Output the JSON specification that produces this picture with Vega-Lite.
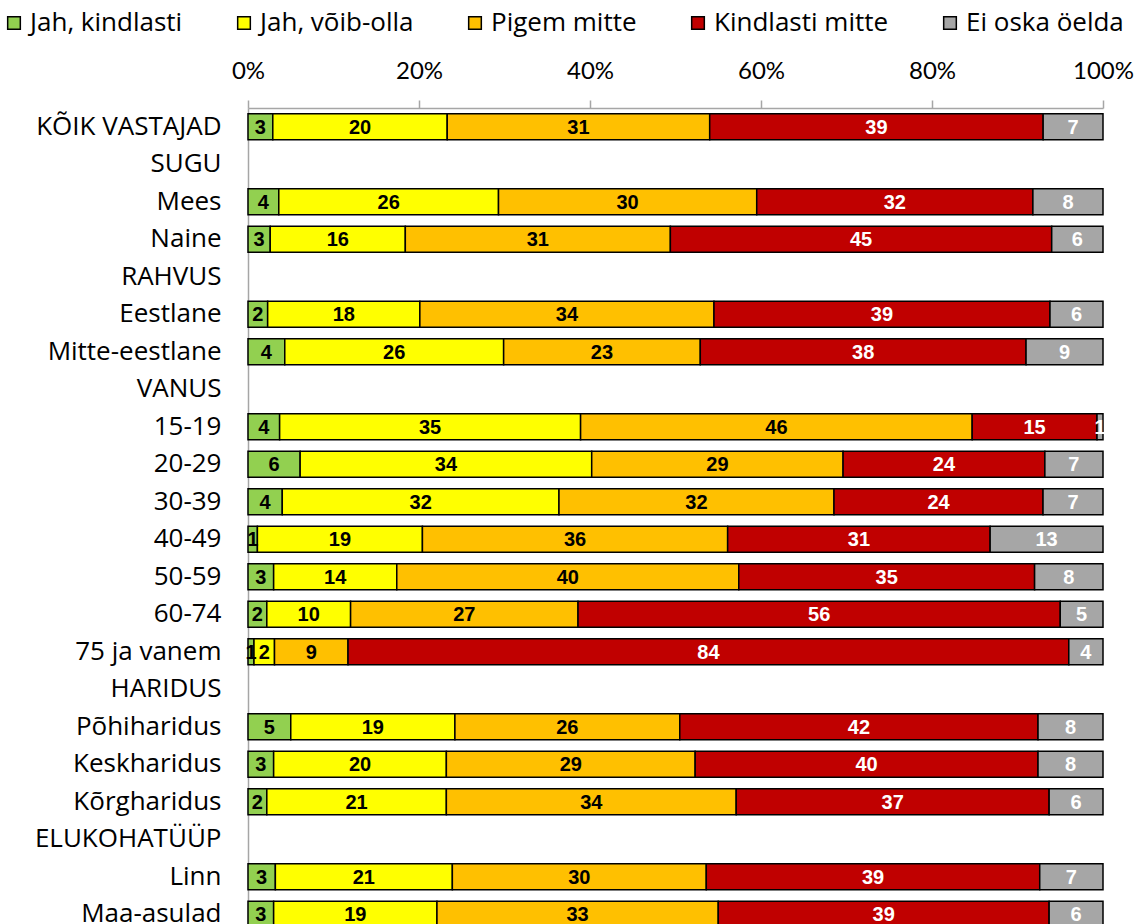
{
  "$schema": "https://vega.github.io/schema/vega-lite/v6.json",
  "width": 855,
  "height": 825,
  "autosize": {"type": "none"},
  "padding": {"left": 248, "top": 108, "right": 39, "bottom": 0},
  "background": "white",
  "config": {"view": {"stroke": null}, "font": "Open Sans"},
  "data": {"values": [
    {"g": "KÕIK VASTAJAD", "s": "Jah, kindlasti", "o": 1, "v": 2.9},
    {"g": "KÕIK VASTAJAD", "s": "Jah, võib-olla", "o": 2, "v": 20.4},
    {"g": "KÕIK VASTAJAD", "s": "Pigem mitte", "o": 3, "v": 30.7},
    {"g": "KÕIK VASTAJAD", "s": "Kindlasti mitte", "o": 4, "v": 39.0},
    {"g": "KÕIK VASTAJAD", "s": "Ei oska öelda", "o": 5, "v": 7.0},
    {"g": "Mees", "s": "Jah, kindlasti", "o": 1, "v": 3.6},
    {"g": "Mees", "s": "Jah, võib-olla", "o": 2, "v": 25.7},
    {"g": "Mees", "s": "Pigem mitte", "o": 3, "v": 30.2},
    {"g": "Mees", "s": "Kindlasti mitte", "o": 4, "v": 32.3},
    {"g": "Mees", "s": "Ei oska öelda", "o": 5, "v": 8.2},
    {"g": "Naine", "s": "Jah, kindlasti", "o": 1, "v": 2.6},
    {"g": "Naine", "s": "Jah, võib-olla", "o": 2, "v": 15.8},
    {"g": "Naine", "s": "Pigem mitte", "o": 3, "v": 31.0},
    {"g": "Naine", "s": "Kindlasti mitte", "o": 4, "v": 44.6},
    {"g": "Naine", "s": "Ei oska öelda", "o": 5, "v": 6.0},
    {"g": "Eestlane", "s": "Jah, kindlasti", "o": 1, "v": 2.3},
    {"g": "Eestlane", "s": "Jah, võib-olla", "o": 2, "v": 17.8},
    {"g": "Eestlane", "s": "Pigem mitte", "o": 3, "v": 34.4},
    {"g": "Eestlane", "s": "Kindlasti mitte", "o": 4, "v": 39.3},
    {"g": "Eestlane", "s": "Ei oska öelda", "o": 5, "v": 6.2},
    {"g": "Mitte-eestlane", "s": "Jah, kindlasti", "o": 1, "v": 4.3},
    {"g": "Mitte-eestlane", "s": "Jah, võib-olla", "o": 2, "v": 25.6},
    {"g": "Mitte-eestlane", "s": "Pigem mitte", "o": 3, "v": 23.0},
    {"g": "Mitte-eestlane", "s": "Kindlasti mitte", "o": 4, "v": 38.1},
    {"g": "Mitte-eestlane", "s": "Ei oska öelda", "o": 5, "v": 9.0},
    {"g": "15-19", "s": "Jah, kindlasti", "o": 1, "v": 3.7},
    {"g": "15-19", "s": "Jah, võib-olla", "o": 2, "v": 35.2},
    {"g": "15-19", "s": "Pigem mitte", "o": 3, "v": 45.8},
    {"g": "15-19", "s": "Kindlasti mitte", "o": 4, "v": 14.6},
    {"g": "15-19", "s": "Ei oska öelda", "o": 5, "v": 0.7},
    {"g": "20-29", "s": "Jah, kindlasti", "o": 1, "v": 6.1},
    {"g": "20-29", "s": "Jah, võib-olla", "o": 2, "v": 34.1},
    {"g": "20-29", "s": "Pigem mitte", "o": 3, "v": 29.4},
    {"g": "20-29", "s": "Kindlasti mitte", "o": 4, "v": 23.6},
    {"g": "20-29", "s": "Ei oska öelda", "o": 5, "v": 6.8},
    {"g": "30-39", "s": "Jah, kindlasti", "o": 1, "v": 4.0},
    {"g": "30-39", "s": "Jah, võib-olla", "o": 2, "v": 32.3},
    {"g": "30-39", "s": "Pigem mitte", "o": 3, "v": 32.1},
    {"g": "30-39", "s": "Kindlasti mitte", "o": 4, "v": 24.4},
    {"g": "30-39", "s": "Ei oska öelda", "o": 5, "v": 7.0},
    {"g": "40-49", "s": "Jah, kindlasti", "o": 1, "v": 1.1},
    {"g": "40-49", "s": "Jah, võib-olla", "o": 2, "v": 19.3},
    {"g": "40-49", "s": "Pigem mitte", "o": 3, "v": 35.7},
    {"g": "40-49", "s": "Kindlasti mitte", "o": 4, "v": 30.7},
    {"g": "40-49", "s": "Ei oska öelda", "o": 5, "v": 13.2},
    {"g": "50-59", "s": "Jah, kindlasti", "o": 1, "v": 3.0},
    {"g": "50-59", "s": "Jah, võib-olla", "o": 2, "v": 14.4},
    {"g": "50-59", "s": "Pigem mitte", "o": 3, "v": 40.0},
    {"g": "50-59", "s": "Kindlasti mitte", "o": 4, "v": 34.6},
    {"g": "50-59", "s": "Ei oska öelda", "o": 5, "v": 8.0},
    {"g": "60-74", "s": "Jah, kindlasti", "o": 1, "v": 2.2},
    {"g": "60-74", "s": "Jah, võib-olla", "o": 2, "v": 9.8},
    {"g": "60-74", "s": "Pigem mitte", "o": 3, "v": 26.6},
    {"g": "60-74", "s": "Kindlasti mitte", "o": 4, "v": 56.4},
    {"g": "60-74", "s": "Ei oska öelda", "o": 5, "v": 5.0},
    {"g": "75 ja vanem", "s": "Jah, kindlasti", "o": 1, "v": 0.7},
    {"g": "75 ja vanem", "s": "Jah, võib-olla", "o": 2, "v": 2.4},
    {"g": "75 ja vanem", "s": "Pigem mitte", "o": 3, "v": 8.6},
    {"g": "75 ja vanem", "s": "Kindlasti mitte", "o": 4, "v": 84.3},
    {"g": "75 ja vanem", "s": "Ei oska öelda", "o": 5, "v": 4.0},
    {"g": "Põhiharidus", "s": "Jah, kindlasti", "o": 1, "v": 5.0},
    {"g": "Põhiharidus", "s": "Jah, võib-olla", "o": 2, "v": 19.2},
    {"g": "Põhiharidus", "s": "Pigem mitte", "o": 3, "v": 26.3},
    {"g": "Põhiharidus", "s": "Kindlasti mitte", "o": 4, "v": 41.9},
    {"g": "Põhiharidus", "s": "Ei oska öelda", "o": 5, "v": 7.6},
    {"g": "Keskharidus", "s": "Jah, kindlasti", "o": 1, "v": 3.0},
    {"g": "Keskharidus", "s": "Jah, võib-olla", "o": 2, "v": 20.2},
    {"g": "Keskharidus", "s": "Pigem mitte", "o": 3, "v": 29.1},
    {"g": "Keskharidus", "s": "Kindlasti mitte", "o": 4, "v": 40.1},
    {"g": "Keskharidus", "s": "Ei oska öelda", "o": 5, "v": 7.6},
    {"g": "Kõrgharidus", "s": "Jah, kindlasti", "o": 1, "v": 2.2},
    {"g": "Kõrgharidus", "s": "Jah, võib-olla", "o": 2, "v": 21.0},
    {"g": "Kõrgharidus", "s": "Pigem mitte", "o": 3, "v": 33.9},
    {"g": "Kõrgharidus", "s": "Kindlasti mitte", "o": 4, "v": 36.6},
    {"g": "Kõrgharidus", "s": "Ei oska öelda", "o": 5, "v": 6.3},
    {"g": "Linn", "s": "Jah, kindlasti", "o": 1, "v": 3.2},
    {"g": "Linn", "s": "Jah, võib-olla", "o": 2, "v": 20.7},
    {"g": "Linn", "s": "Pigem mitte", "o": 3, "v": 29.7},
    {"g": "Linn", "s": "Kindlasti mitte", "o": 4, "v": 39.0},
    {"g": "Linn", "s": "Ei oska öelda", "o": 5, "v": 7.4},
    {"g": "Maa-asulad", "s": "Jah, kindlasti", "o": 1, "v": 3.0},
    {"g": "Maa-asulad", "s": "Jah, võib-olla", "o": 2, "v": 19.1},
    {"g": "Maa-asulad", "s": "Pigem mitte", "o": 3, "v": 32.9},
    {"g": "Maa-asulad", "s": "Kindlasti mitte", "o": 4, "v": 38.7},
    {"g": "Maa-asulad", "s": "Ei oska öelda", "o": 5, "v": 6.3}
  ]},
  "encoding": {
    "y": {
      "field": "g", "type": "nominal", "title": null,
      "scale": {
        "domain": ["KÕIK VASTAJAD", "SUGU", "Mees", "Naine", "RAHVUS", "Eestlane", "Mitte-eestlane", "VANUS", "15-19", "20-29", "30-39", "40-49", "50-59", "60-74", "75 ja vanem", "HARIDUS", "Põhiharidus", "Keskharidus", "Kõrgharidus", "ELUKOHATÜÜP", "Linn", "Maa-asulad"],
        "paddingInner": 0.31, "paddingOuter": 0.155
      },
      "axis": {
        "ticks": false, "domainColor": "#A6A6A6", "domainWidth": 1.5,
        "labelFontSize": 26, "labelColor": "#000000", "labelPadding": 27,
        "labelFont": "Open Sans", "labelLimit": 300
      }
    },
    "order": {"field": "o", "type": "quantitative", "sort": "ascending"}
  },
  "layer": [
    {
      "mark": {"type": "bar", "stroke": "#000000", "strokeWidth": 1.5},
      "encoding": {
        "x": {
          "field": "v", "type": "quantitative", "title": null, "stack": "normalize",
          "scale": {"domain": [0, 1], "nice": false},
          "axis": {
            "orient": "top", "format": ".0%", "values": [0, 0.2, 0.4, 0.6, 0.8, 1],
            "grid": false, "domainColor": "#A6A6A6", "domainWidth": 1.5,
            "tickColor": "#A6A6A6", "tickWidth": 1.5, "tickSize": 8,
            "labelFontSize": 24, "labelColor": "#000000", "labelPadding": 17,
            "labelFont": "Lato", "labelFlush": false
          }
        },
        "color": {
          "field": "s", "type": "nominal", "title": null,
          "scale": {
            "domain": ["Jah, kindlasti", "Jah, võib-olla", "Pigem mitte", "Kindlasti mitte", "Ei oska öelda"],
            "range": ["#92D050", "#FFFF00", "#FFC000", "#C00000", "#A6A6A6"]
          },
          "legend": {
            "orient": "none", "legendX": -247, "legendY": -98, "direction": "horizontal",
            "columns": 5, "columnPadding": 48,
            "symbolType": "square", "symbolSize": 160, "symbolStrokeColor": "#000000",
            "symbolStrokeWidth": 1.5, "symbolOpacity": 1,
            "labelFontSize": 26, "labelFont": "Open Sans", "labelColor": "#000000",
            "labelOffset": 3, "labelLimit": 300
          }
        }
      }
    },
    {
      "mark": {"type": "text", "font": "Liberation Sans", "fontWeight": "bold", "fontSize": 20, "baseline": "middle", "align": "center", "dy": 1},
      "encoding": {
        "x": {"field": "v", "type": "quantitative", "stack": "normalize", "bandPosition": 0.5},
        "detail": {"field": "s"},
        "text": {"field": "v", "type": "quantitative", "format": ".0f"},
        "color": {
          "condition": {"test": "datum.o >= 4", "value": "#FFFFFF"},
          "value": "#000000"
        }
      }
    }
  ]
}
